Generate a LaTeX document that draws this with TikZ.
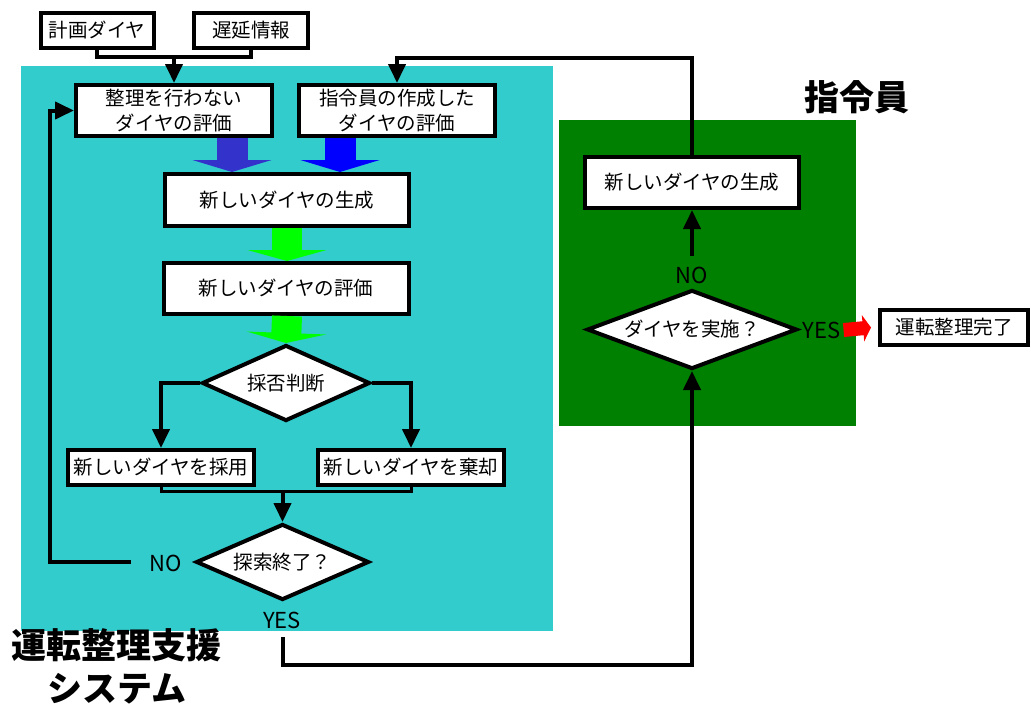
\documentclass[tikz,border=0pt]{standalone}
\usepackage{fontspec}
\setmainfont{Noto Sans CJK JP}
\usetikzlibrary{shapes.geometric,arrows.meta,calc}
\definecolor{cyanbg}{HTML}{33CCCC}
\definecolor{greenbg}{HTML}{008000}
\definecolor{blueA}{HTML}{3333CC}
\definecolor{blueB}{HTML}{0000FF}
\definecolor{limeA}{HTML}{00FF00}
\definecolor{redA}{HTML}{FF0000}
\begin{document}
\begin{tikzpicture}[x=1pt,y=-1pt,
  font=\fontsize{19.5}{25}\selectfont,
  box/.style={draw, line width=4pt, fill=white, inner sep=0pt, align=center},
  dia/.style={diamond, draw, line width=4pt, fill=white, inner sep=0pt, aspect=3},
  conn/.style={line width=4pt},
  arr/.style={conn, -{Triangle[width=17pt,length=19pt]}},
  blk/.style={line width=31pt, #1, -{Triangle[width=79pt,length=12pt]}},
  lbl/.style={font=\fontsize{22}{24}\selectfont, inner sep=0pt},
  ttl/.style={font=\fontsize{35}{43}\selectfont\bfseries, align=center, inner sep=0pt}]
\useasboundingbox (0,0) rectangle (1031,707);
% regions
\fill[cyanbg] (21,66) rectangle (553,631);
\fill[greenbg] (559,120) rectangle (856,426);
% titles
\node[ttl] (sysT) at (117,666) {運転整理支援\\システム};
\node[ttl] (dispT) at (857,97) {指令員};
% boxes
\node[box, minimum width=113pt, minimum height=35pt] (plan) at (97,30.5) {計画ダイヤ};
\node[box, minimum width=114pt, minimum height=35pt] (delay) at (251,30.5) {遅延情報};
\node[box, minimum width=196pt, minimum height=51pt] (noadj) at (174,110.5) {整理を行わない\\ダイヤの評価};
\node[box, minimum width=196pt, minimum height=51pt] (disp) at (397,110.5) {指令員の作成した\\ダイヤの評価};
\node[box, minimum width=244pt, minimum height=52pt] (gen) at (287,200) {新しいダイヤの生成};
\node[box, minimum width=245pt, minimum height=51pt] (eval) at (286,288.5) {新しいダイヤの評価};
\node[dia, minimum width=168pt, minimum height=76pt] (judge) at (286,383) {採否判断};
\node[box, minimum width=186pt, minimum height=35pt] (adopt) at (161,467.5) {新しいダイヤを採用};
\node[box, minimum width=186pt, minimum height=35pt] (reject) at (411,467.5) {新しいダイヤを棄却};
\node[dia, minimum width=173pt, minimum height=76pt] (endq) at (282.5,562) {探索終了？};
\node[box, minimum width=214pt, minimum height=51pt] (rgen) at (692,182.5) {新しいダイヤの生成};
\node[dia, minimum width=210pt, minimum height=79pt] (exec) at (692,329.5) {ダイヤを実施？};
\node[box, minimum width=148pt, minimum height=35pt] (done) at (954,327.5) {運転整理完了};
% labels
\node[lbl] (noL) at (166,563) {NO};
\node[lbl] (yesB) at (282,620) {YES};
\node[lbl] (noR) at (692,275) {NO};
\node[lbl] (yesR) at (821.5,330) {YES};
% block arrows
\coordinate (bx1) at (232,0);
\coordinate (bx2) at (340,0);
\coordinate (gx) at (287,0);
\draw[blk=blueA] (bx1 |- noadj.south) -- (bx1 |- gen.north);
\draw[blk=blueB] (bx2 |- disp.south) -- (bx2 |- gen.north);
\draw[line width=30pt, limeA, -{Triangle[width=79pt,length=11pt]}] (gx |- gen.south) -- (gx |- eval.north);
\draw[line width=30pt, limeA, -{Triangle[width=79pt,length=10pt]}] (gx |- eval.south) -- (judge.north);
\draw[line width=14pt, redA, -{Triangle[width=26pt,length=8pt]}] ([xshift=3pt]yesR.east) -- ([xshift=-7pt]done.west);
% connectors
\coordinate (j1) at (174,57);
\draw[conn] (plan.south) |- (j1) -| (delay.south);
\draw[arr] (j1) -- (noadj.north);
\coordinate (tp) at (397,58);
\draw[arr] (rgen.north) |- (tp) -- (disp.north);
\draw[arr] (judge.west) -| (adopt.north);
\draw[arr] (judge.east) -| (reject.north);
\coordinate (j3) at (282.5,491);
\draw[line width=3pt] (adopt.south) |- (j3) -| (reject.south);
\draw[arr] (j3) -- (endq.north);
\coordinate (noend) at (131,562);
\coordinate (fbk) at (50,562);
\draw[arr] (noend) -- (fbk) |- (noadj.west);
\coordinate (yesend) at (282.5,637);
\coordinate (bt) at (692,665);
\draw[arr] (yesend) |- (bt) -- (exec.south);
\coordinate (noRend) at (692,256);
\draw[arr] (noRend) -- (rgen.south);
\end{tikzpicture}
\end{document}
